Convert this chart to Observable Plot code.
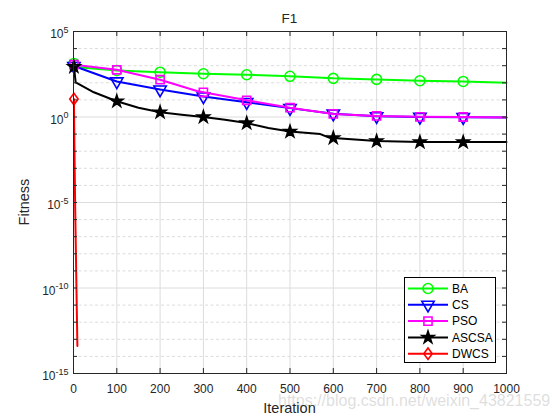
<!DOCTYPE html>
<html>
<head>
<meta charset="utf-8">
<script src="https://cdn.jsdelivr.net/npm/d3@7"></script>
<script src="https://cdn.jsdelivr.net/npm/@observablehq/plot@0.6"></script>
<style>
  html, body { margin: 0; padding: 0; background: #fff; }
  #chart { position: relative; width: 560px; height: 420px; }
</style>
</head>
<body>
<div id="chart"></div>
<script>
// ---- data ----
const iterTicks = [0, 100, 200, 300, 400, 500, 600, 700, 800, 900, 1000];
const majorExp = [-15, -10, -5, 0, 5];
const decadeExp = [-15, -14, -13, -12, -11, -10, -9, -8, -7, -6, -5, -4, -3, -2, -1, 0, 1, 2, 3, 4, 5];
const markerIters = [1, 100, 200, 300, 400, 500, 600, 700, 800, 900];

const seriesNames = ["BA", "CS", "PSO", "ASCSA", "DWCS"];
const seriesColors = ["#00ff00", "#0000ff", "#ff00ff", "#000000", "#ff0000"];

const baIter = [1, 10, 100, 200, 300, 400, 500, 600, 700, 800, 900, 1000];
const baFit  = [1350, 800, 525, 417, 339, 295, 240, 182, 158, 132, 120, 100];

const csIter = [1, 100, 200, 300, 400, 500, 600, 700, 800, 900, 1000];
const csFit  = [955, 120, 40, 15.8, 7.4, 3.3, 1.55, 1.1, 1.0, 0.98, 0.93];

const psoIter = [1, 100, 200, 285, 300, 400, 500, 600, 700, 800, 900, 1000];
const psoFit  = [1150, 575, 151, 33, 28, 9.5, 3.5, 1.5, 1.15, 1.02, 1.0, 0.95];

const ascsaIter = [1, 5, 47, 100, 150, 200, 250, 300, 350, 400, 450, 500, 570, 590, 600, 700, 800, 900, 1000];
const ascsaFit  = [870, 107, 28, 8.3, 3.5, 1.9, 1.35, 1.0, 0.69, 0.44, 0.23, 0.14, 0.10, 0.063, 0.06, 0.039, 0.034, 0.034, 0.034];

const dwcsIter = [1, 2, 4, 7, 9];
const dwcsFit  = [11.2, 3.2e-2, 3.2e-6, 5e-11, 4e-14];

// ---- build tables ----
const toRows = (iters, fits) => iters.map((it, i) => ({ it, f: fits[i] }));
const series = [
  toRows(baIter, baFit),
  toRows(csIter, csFit),
  toRows(psoIter, psoFit),
  toRows(ascsaIter, ascsaFit),
  toRows(dwcsIter, dwcsFit)
];

// MATLAB-like diamond (taller than wide)
const diamondTall = {
  draw(ctx, size) {
    const r = Math.sqrt(size / Math.PI);
    ctx.moveTo(0, -1.2 * r);
    ctx.lineTo(0.88 * r, 0);
    ctx.lineTo(0, 1.2 * r);
    ctx.lineTo(-0.88 * r, 0);
    ctx.closePath();
  }
};
const markerStyles = [
  { symbol: "circle", r: 5, fill: "none", rotate: 0 },
  { symbol: "triangle", r: 4.6, fill: "none", rotate: 180 },
  { symbol: "square", r: 4.6, fill: "none", rotate: 0 },
  { symbol: "star", r: 3.8, fill: "#000000", rotate: 0 },
  { symbol: diamondTall, r: 4.8, fill: "none", rotate: 0 }
];

const W = 560, H = 420;
const mL = 73, mR = 54, mT = 31, mB = 47;
const plotW = W - mL - mR, plotH = H - mT - mB;
const font = "'Liberation Sans', Arial, Helvetica, sans-serif";
const tickColor = "#262626";
const gridColor = "#dcdcdc";

const majorVals = majorExp.map(e => Math.pow(10, e));
const decadeVals = decadeExp.map(e => Math.pow(10, e));
const minorVals = decadeExp.filter(e => !majorExp.includes(e)).map(e => Math.pow(10, e));

const marks = [
  Plot.gridX(iterTicks, { stroke: gridColor, strokeOpacity: 1, strokeWidth: 1 }),
  Plot.gridY(minorVals, { stroke: gridColor, strokeOpacity: 1, strokeWidth: 1, strokeDasharray: "3,2.5" }),
  Plot.gridY(majorVals, { stroke: gridColor, strokeOpacity: 1, strokeWidth: 1 })
];

series.forEach((rows, i) => {
  const ms = markerStyles[i];
  marks.push(Plot.line(rows, { x: "it", y: "f", stroke: seriesColors[i], strokeWidth: 2 }));
  const mrows = rows.filter(d => markerIters.includes(d.it));
  marks.push(Plot.dot(mrows, {
    x: "it", y: "f", symbol: () => ms.symbol, r: ms.r,
    stroke: seriesColors[i], fill: ms.fill, strokeWidth: 1.6, rotate: ms.rotate
  }));
});

marks.push(
  // inward ticks bottom/top
  Plot.tickX(iterTicks, { x: d => d, stroke: tickColor, insetTop: plotH - 5 }),
  Plot.tickX(iterTicks, { x: d => d, stroke: tickColor, insetBottom: plotH - 5 }),
  // inward ticks left/right at every decade
  Plot.tickY(decadeVals, { y: d => d, stroke: tickColor, insetRight: plotW - 4 }),
  Plot.tickY(decadeVals, { y: d => d, stroke: tickColor, insetLeft: plotW - 4 }),
  Plot.frame({ stroke: tickColor, strokeWidth: 1 }),
  Plot.axisX(iterTicks, { tickSize: 0, tickPadding: 11, tickFormat: d => String(d), label: null, fill: tickColor, fontSize: 12 }),
  Plot.axisY(majorVals, { tickSize: 0, tickPadding: 5, dy: 3, tickFormat: d => String(Math.round(Math.log10(d))), label: null, fill: tickColor, fontSize: 12 })
);

const chart = Plot.plot({
  width: W, height: H,
  marginLeft: mL, marginRight: mR, marginTop: mT, marginBottom: mB,
  style: { fontFamily: font, fontSize: "12px", background: "#fff", color: tickColor },
  x: { type: "linear", domain: [0, 1000] },
  y: { type: "log", domain: [1e-15, 1e5] },
  marks
});
document.getElementById("chart").appendChild(chart);

const svg = d3.select(chart);

// superscript exponents on y tick labels
svg.selectAll('g[aria-label="y-axis tick label"] text').each(function () {
  const t = d3.select(this);
  const exp = t.text();
  t.text("10");
  t.append("tspan").attr("dy", "-5.5").attr("font-size", "9px").text(exp);
});

// title and axis labels
svg.append("text").attr("x", mL + plotW / 2).attr("y", 23).attr("text-anchor", "middle")
  .attr("font-family", font).attr("font-size", "13.5px").attr("fill", tickColor).text("F1");

// watermark
svg.append("text").attr("x", 278).attr("y", 406).attr("text-anchor", "start")
  .attr("font-family", font).attr("font-size", "16px").attr("fill", "#d9d9d9").attr("fill-opacity", 0.85)
  .text("https://blog.csdn.net/weixin_43821559");

svg.append("text").attr("x", mL + plotW / 2).attr("y", 413).attr("text-anchor", "middle")
  .attr("font-family", font).attr("font-size", "14.5px").attr("fill", tickColor).text("Iteration");
svg.append("text").attr("transform", `translate(29,${mT + plotH / 2}) rotate(-90)`).attr("text-anchor", "middle")
  .attr("font-family", font).attr("font-size", "14.5px").attr("fill", tickColor).text("Fitness");

// legend
const lg = svg.append("g");
lg.append("rect").attr("x", 404.5).attr("y", 277.5).attr("width", 91).attr("height", 85)
  .attr("fill", "#fff").attr("stroke", "#000").attr("stroke-width", 1);
seriesNames.forEach((name, i) => {
  const cy = 288.5 + i * 16.3;
  const ms = markerStyles[i];
  lg.append("line").attr("x1", 408).attr("x2", 448).attr("y1", cy).attr("y2", cy)
    .attr("stroke", seriesColors[i]).attr("stroke-width", 2);
  const symObj = typeof ms.symbol === "string"
    ? { circle: d3.symbolCircle, triangle: d3.symbolTriangle, square: d3.symbolSquare, star: d3.symbolStar }[ms.symbol]
    : ms.symbol;
  lg.append("path").attr("d", d3.symbol(symObj, Math.PI * ms.r * ms.r)())
    .attr("transform", `translate(428,${cy}) rotate(${ms.rotate})`)
    .attr("fill", ms.fill).attr("stroke", seriesColors[i]).attr("stroke-width", 1.6);
  lg.append("text").attr("x", 452).attr("y", cy).attr("dy", "0.35em").attr("text-anchor", "start")
    .attr("font-family", font).attr("font-size", "12px").attr("fill", "#000").text(name);
});
</script>
</body>
</html>
